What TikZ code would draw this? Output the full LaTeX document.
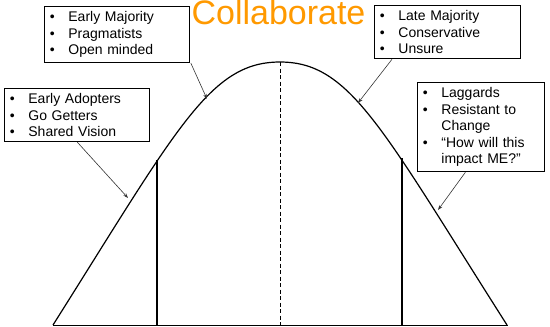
\documentclass[tikz,border=0pt]{standalone}
\usepackage{fontspec}
\setmainfont{Liberation Sans}
\usetikzlibrary{arrows.meta}
\definecolor{titleorange}{RGB}{255,153,0}
\newcommand{\bul}{\makebox[18.5pt][l]{\textbullet}}
\newcommand{\ind}{\hspace*{18.5pt}}
\begin{document}
\begin{tikzpicture}[x=1pt,y=-1pt,
  callout/.style={draw=black,line width=0.8pt,anchor=north west,align=left,
    inner xsep=5.5pt,inner ysep=5pt,font=\fontsize{14}{16.6}\selectfont,fill=white},
  pointer/.style={draw=black!80,line width=0.6pt,-{Stealth[length=5pt,width=3.5pt]}},
  curve/.style={line width=1.2pt,black},
  divider/.style={line width=1.1pt,black}]
\useasboundingbox (0,0) rectangle (550,327);

% axis and adoption curve
\coordinate (bl) at (53,325);
\coordinate (br) at (508,325);
\coordinate (peak) at (280,62);
\draw[line width=1pt] (bl) -- (br);
\draw[curve] (bl) .. controls (178,127) and (210,62) .. (peak)
  .. controls (350,62) and (381,127) .. (507,325);

% segment dividers
\coordinate (d1t) at (157,160);
\coordinate (d1b) at (157,325);
\coordinate (d2t) at (402,158);
\coordinate (d2b) at (402,325);
\coordinate (mb) at (280,325);
\draw[divider] (d1t) -- (d1b);
\draw[divider] (d2t) -- (d2b);
\draw[line width=1pt,dash pattern=on 4pt off 2.5pt] (peak) -- (mb);

% title
\node (title) [anchor=base,text=titleorange,font=\fontsize{34}{34}\selectfont,inner sep=0pt]
  at (278.5,24) {Collaborate};

% callouts
\node (em) [callout,text width=134pt] at (44,6)
  {\bul Early Majority\\ \bul Pragmatists\\ \bul Open minded};
\node (ea) [callout,text width=134pt] at (4,88)
  {\bul Early Adopters\\ \bul Go Getters\\ \bul Shared Vision};
\node (lm) [callout,text width=135pt] at (374,5)
  {\bul Late Majority\\ \bul Conservative\\ \bul Unsure};
\node (lg) [callout,text width=116pt] at (417,82)
  {\bul Laggards\\ \bul Resistant to\\ \ind Change\\ \bul \char"201C How will this\\ \ind impact ME?\char"201D};

% pointers onto the curve
\coordinate (pem) at (207,99);
\coordinate (pea) at (128,198);
\coordinate (plm) at (358,103);
\coordinate (plg) at (438,210);
\draw[pointer] (em.south east) ++(1,0) -- (pem);
\draw[pointer] (ea.south) ++(0.5,0) -- (pea);
\draw[pointer] (lm.south west) ++(18,0) -- (plm);
\draw[pointer] (lg.south) ++(-15.5,0) -- (plg);
\end{tikzpicture}
\end{document}
